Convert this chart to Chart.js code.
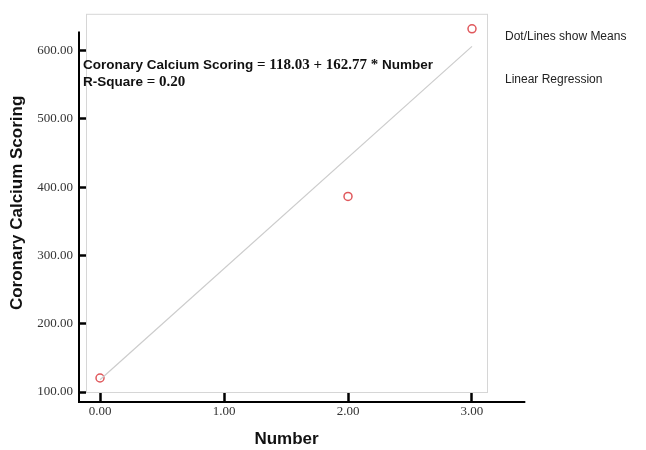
<!DOCTYPE html>
<html>
<head>
<meta charset="utf-8">
<script src="https://cdn.jsdelivr.net/npm/chart.js@4.4.0/dist/chart.umd.min.js"></script>
<style>
  html, body { margin: 0; padding: 0; background: #fff; }
  #wrap { width: 646px; height: 450px; position: relative; }
</style>
</head>
<body>
<div id="wrap"><canvas id="myChart" width="646" height="450"></canvas></div>
<script>
'use strict';
// group means
const groups = [0, 2, 3];
const meanScores = [120.5, 386.5, 632];
// fitted line end points (from the printed equation)
const fitX = [0, 3];
const fitY = [118.03, 606.34];
// tick labels
const xTicks = [0, 1, 2, 3];
const yTicks = [100, 200, 300, 400, 500, 600];
const equationParts = [
  ['Coronary Calcium Scoring', 'sans'],
  [' = 118.03 + 162.77 * ', 'serif'],
  ['Number', 'sans'],
];
const rSquareParts = [
  ['R-Square', 'sans'],
  [' = 0.20', 'serif'],
];
const notes = ['Dot/Lines show Means', 'Linear Regression'];

const points = groups.map((g, i) => ({ x: g, y: meanScores[i] }));
const fitLine = fitX.map((g, i) => ({ x: g, y: fitY[i] }));

// grey frame + black SPSS style axes + annotation text
const spssPlugin = {
  id: 'spss',
  beforeDatasetsDraw(chart) {
    const { ctx, chartArea: a } = chart;
    ctx.save();
    ctx.strokeStyle = '#d6d6d6';
    ctx.lineWidth = 1;
    ctx.strokeRect(a.left + 0.5, a.top + 0.5, a.right - a.left, a.bottom - a.top);
    ctx.restore();
  },
  afterDraw(chart) {
    const { ctx, chartArea: a, scales } = chart;
    const axX = a.left - 7;
    const axY = a.bottom + 10;
    ctx.save();
    ctx.strokeStyle = '#000';
    ctx.lineWidth = 2;
    ctx.beginPath();
    ctx.moveTo(axX, scales.y.getPixelForValue(628));
    ctx.lineTo(axX, axY);
    ctx.moveTo(axX - 1, axY);
    ctx.lineTo(scales.x.getPixelForValue(3.43), axY);
    ctx.stroke();

    // equation
    const fonts = {
      sans: 'bold 13.5px "Liberation Sans", Arial, sans-serif',
      serif: 'bold 15px "Liberation Serif", "Times New Roman", serif',
    };
    ctx.fillStyle = '#111';
    ctx.textBaseline = 'alphabetic';
    const drawParts = (parts, x, y) => {
      parts.forEach(p => {
        ctx.font = fonts[p[1]];
        ctx.fillText(p[0], x, y);
        x += ctx.measureText(p[0]).width;
      });
    };
    drawParts(equationParts, a.left - 3, 68.5);
    drawParts(rSquareParts, a.left - 3, 85.5);

    // notes on the right
    ctx.font = '12px "Liberation Sans", Arial, sans-serif';
    ctx.fillStyle = '#222';
    ctx.textBaseline = 'middle';
    ctx.fillText(notes[0], 505, 37);
    ctx.fillText(notes[1], 505, 80);
    ctx.restore();
  },
};

const config = {
  type: 'scatter',
  data: {
    datasets: [
      {
        label: 'Linear Regression',
        type: 'line',
        data: fitLine,
        borderColor: '#cccccc',
        borderWidth: 1.2,
        pointRadius: 0,
        fill: false,
      },
      {
        label: 'Means',
        data: points,
        pointRadius: 4,
        pointHoverRadius: 4,
        borderColor: '#e0585c',
        backgroundColor: 'rgba(255,255,255,0)',
        borderWidth: 1.5,
      },
    ],
  },
  options: {
    responsive: false,
    animation: false,
    layout: { padding: { left: 0, right: 159, top: 13, bottom: 0 } },
    plugins: { legend: { display: false }, tooltip: { enabled: false } },
    scales: {
      x: {
        type: 'linear',
        min: -0.113,
        max: 3.121,
        afterBuildTicks: s => { s.ticks = xTicks.map(v => ({ value: v })); },
        afterFit: s => { s.height = 58; },
        grid: { drawOnChartArea: false, tickLength: 9, tickColor: '#000', tickWidth: 2.5 },
        border: { display: false },
        ticks: {
          padding: 3,
          color: '#333',
          font: { family: '"Liberation Serif", "Times New Roman", serif', size: 13 },
          callback: v => Number(v).toFixed(2),
          maxRotation: 0,
        },
        title: {
          display: true,
          text: 'Number',
          color: '#111',
          padding: { top: 0, bottom: 0 },
          font: { family: '"Liberation Sans", Arial, sans-serif', size: 17, weight: 'bold' },
        },
      },
      y: {
        type: 'linear',
        min: 100,
        max: 654,
        afterBuildTicks: s => { s.ticks = yTicks.map(v => ({ value: v })); },
        afterFit: s => { s.width = 86; },
        grid: { drawOnChartArea: false, tickLength: 7, tickColor: '#000', tickWidth: 2.5 },
        border: { display: false },
        ticks: {
          padding: 6,
          color: '#333',
          font: { family: '"Liberation Serif", "Times New Roman", serif', size: 13 },
          callback: v => Number(v).toFixed(2),
        },
        title: {
          display: true,
          text: 'Coronary Calcium Scoring',
          color: '#111',
          padding: { top: 7, bottom: 0 },
          font: { family: '"Liberation Sans", Arial, sans-serif', size: 17, weight: 'bold' },
        },
      },
    },
  },
  plugins: [spssPlugin],
};

const myChart = new Chart(document.getElementById('myChart'), config);
</script>
</body>
</html>
